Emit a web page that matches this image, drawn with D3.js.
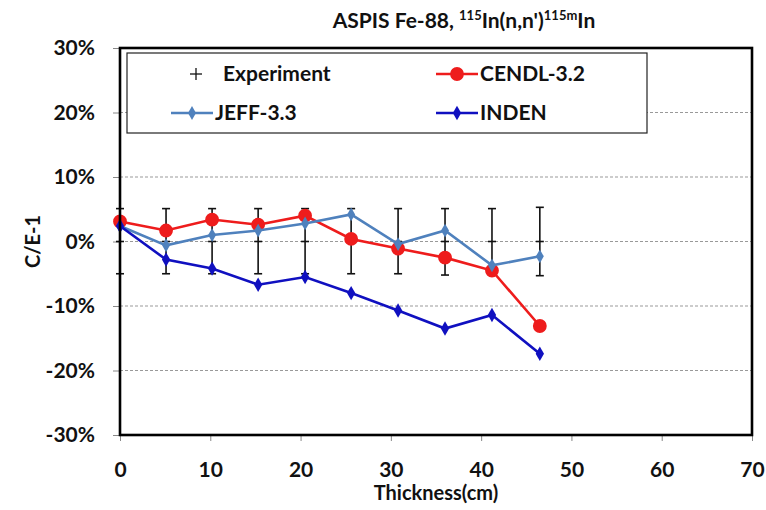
<!DOCTYPE html>
<meta charset="utf-8">
<style>
body { margin: 0; background: #fff; }
svg text { font-family: Lato, "Open Sans", sans-serif; fill: #111; }
.tick text { font-size: 21px; font-weight: 700; }
.grid line { stroke: #999; stroke-dasharray: 3,2; }
</style>
<svg id="chart" width="766" height="510"></svg>
<script src="https://d3js.org/d3.v7.min.js"></script>
<script>

// values
const thickness = [0, 5.1, 10.2, 15.3, 20.5, 25.6, 30.8, 36.0, 41.2, 46.5];
const expVal = [0, 0, 0, 0, 0, 0, 0, 0, 0, 0];
const expUp = [5.1, 5.1, 5.1, 5.1, 5.1, 5.1, 5.1, 5.1, 5.1, 5.3];
const expDown = [-5.0, -5.0, -5.0, -5.0, -5.0, -5.0, -5.0, -5.2, -5.2, -5.3];
const cendl = [3.1, 1.7, 3.4, 2.6, 4.0, 0.4, -1.1, -2.5, -4.5, -13.1];
const jeff = [2.4, -0.6, 1.0, 1.7, 2.8, 4.2, -0.4, 1.7, -3.7, -2.3];
const inden = [2.4, -2.8, -4.2, -6.7, -5.5, -8.0, -10.7, -13.5, -11.4, -17.4];
const xTicks = [0, 10, 20, 30, 40, 50, 60, 70];
const yTicks = [-30, -20, -10, 0, 10, 20, 30];

let svg = d3.select("#chart");

let margin = {top: 48, right: 14, bottom: 75, left: 120},
  width = 766 - margin.left - margin.right,
  height = 510 - margin.top - margin.bottom;

let x = d3.scaleLinear().domain([0, 70]).range([0, width]);
let y = d3.scaleLinear().domain([-30, 30]).range([height, 0]);

let g = svg.append("g")
  .attr("transform", "translate(" + margin.left + "," + margin.top + ")");

// gridlines
g.append("g")
  .attr("class", "grid")
  .selectAll("line")
  .data(yTicks.filter(d => d > -30 && d < 30))
  .enter().append("line")
  .attr("x1", 0).attr("x2", width)
  .attr("y1", d => y(d)).attr("y2", d => y(d));

// axes
let xAxis = g.append("g")
  .attr("transform", "translate(0," + height + ")")
  .call(d3.axisBottom(x).tickValues(xTicks).tickSize(6).tickPadding(21));
let yAxis = g.append("g")
  .call(d3.axisLeft(y).tickValues(yTicks).tickSize(7).tickPadding(18)
    .tickFormat(d => d + "%"));
[xAxis, yAxis].forEach(a => {
  a.select(".domain").remove();
  a.selectAll(".tick line").attr("stroke", "#888");
});

// legend box
let legend = g.append("g").attr("transform", "translate(7,5)");
legend.append("rect")
  .attr("width", 520).attr("height", 80)
  .attr("fill", "#fff").attr("stroke", "#222").attr("stroke-width", 1.2);

// experiment error bars
let exp = thickness.map((t, i) => ({t: t, v: expVal[i], up: expUp[i], down: expDown[i]}));
let eb = g.append("g").selectAll("g").data(exp).enter().append("g")
  .attr("stroke", "#111").attr("stroke-width", 1.6);
eb.append("line")
  .attr("x1", d => x(d.t)).attr("x2", d => x(d.t))
  .attr("y1", d => y(d.up)).attr("y2", d => y(d.down));
eb.append("line")
  .attr("x1", d => x(d.t) - 4).attr("x2", d => x(d.t) + 4)
  .attr("y1", d => y(d.up)).attr("y2", d => y(d.up));
eb.append("line")
  .attr("x1", d => x(d.t) - 4).attr("x2", d => x(d.t) + 4)
  .attr("y1", d => y(d.down)).attr("y2", d => y(d.down));
eb.append("line")
  .attr("x1", d => x(d.t) - 4).attr("x2", d => x(d.t) + 4)
  .attr("y1", d => y(d.v)).attr("y2", d => y(d.v));

let line = d3.line().x(d => x(d[0])).y(d => y(d[1]));

let series = [
  {name: "CENDL-3.2", vals: cendl, color: "#ee1c1c", sym: d3.symbolCircle, size: 150},
  {name: "JEFF-3.3", vals: jeff, color: "#4f81bd", sym: d3.symbolDiamond, size: 55},
  {name: "INDEN", vals: inden, color: "#1010c0", sym: d3.symbolDiamond, size: 60}
];

series.forEach(s => {
  let pts = thickness.map((t, i) => [t, s.vals[i]]);
  g.append("path")
    .datum(pts)
    .attr("fill", "none")
    .attr("stroke", s.color)
    .attr("stroke-width", 2.6)
    .attr("d", line);
  g.append("g").selectAll("path").data(pts).enter().append("path")
    .attr("transform", d => "translate(" + x(d[0]) + "," + y(d[1]) + ")")
    .attr("d", d3.symbol().type(s.sym).size(s.size))
    .attr("fill", s.color);
});

// legend entries
let legItems = [
  {name: "Experiment", lx: 96, ly: 21, s: null},
  {name: "CENDL-3.2", lx: 353, ly: 21, s: series[0]},
  {name: "JEFF-3.3", lx: 88, ly: 60, s: series[1]},
  {name: "INDEN", lx: 353, ly: 60, s: series[2]}
];
legItems.forEach(it => {
  let li = legend.append("g").attr("transform", "translate(" + it.lx + "," + it.ly + ")");
  if (it.s) {
    li.append("line").attr("x1", -44).attr("x2", -2).attr("y1", 0).attr("y2", 0)
      .attr("stroke", it.s.color).attr("stroke-width", 2.6);
    li.append("path").attr("transform", "translate(-23,0)")
      .attr("d", d3.symbol().type(it.s.sym).size(it.s.size))
      .attr("fill", it.s.color);
  } else {
    li.append("line").attr("x1", -33).attr("x2", -21).attr("y1", 0).attr("y2", 0)
      .attr("stroke", "#111").attr("stroke-width", 1.3);
    li.append("line").attr("x1", -27).attr("x2", -27).attr("y1", -6).attr("y2", 6)
      .attr("stroke", "#111").attr("stroke-width", 1.3);
  }
  li.append("text").attr("x", 0).attr("dy", "0.35em")
    .style("font-size", "21px").style("font-weight", 700)
    .text(it.name);
});

// plot frame
g.append("rect")
  .attr("width", width).attr("height", height)
  .attr("fill", "none").attr("stroke", "#000").attr("stroke-width", 2.6);

// title
let title = svg.append("text")
  .attr("x", 464).attr("y", 28)
  .attr("text-anchor", "middle")
  .style("font-size", "21px").style("font-weight", 700);
title.append("tspan").text("ASPIS Fe-88, ");
title.append("tspan").attr("dy", -8).style("font-size", "13px").text("115");
title.append("tspan").attr("dy", 8).text("In(n,n')");
title.append("tspan").attr("dy", -8).style("font-size", "13px").text("115m");
title.append("tspan").attr("dy", 8).text("In");

// axis titles
svg.append("text")
  .attr("x", margin.left + x(35)).attr("y", 500)
  .attr("text-anchor", "middle")
  .style("font-size", "20px").style("font-weight", 700)
  .text("Thickness(cm)");
svg.append("text")
  .attr("transform", "translate(40," + (margin.top + y(0)) + ") rotate(-90)")
  .attr("text-anchor", "middle")
  .style("font-size", "20px").style("font-weight", 700)
  .text("C/E-1");

</script>
